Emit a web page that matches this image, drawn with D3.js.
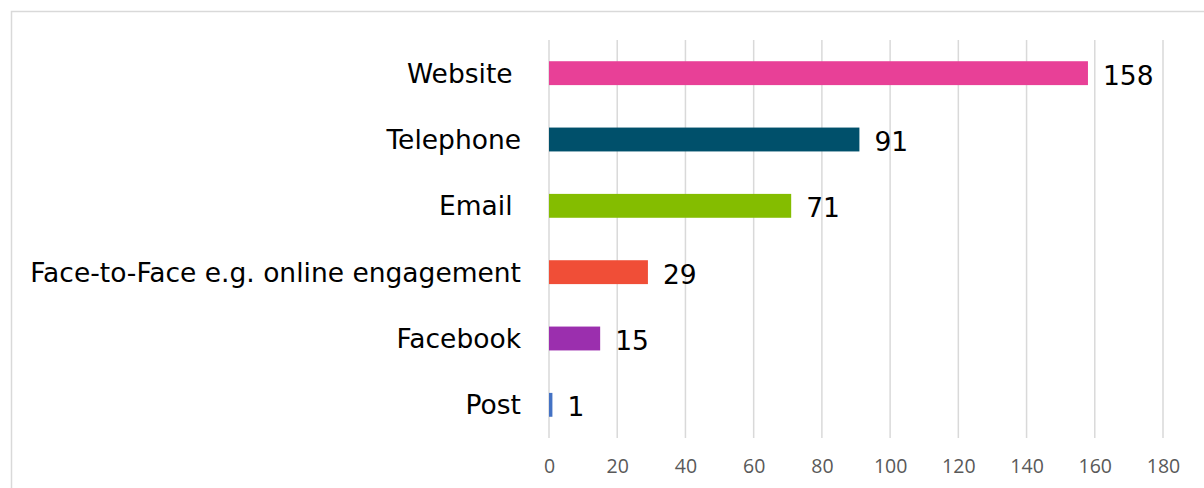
<!DOCTYPE html>
<html><head><meta charset="utf-8">
<script src="https://cdn.jsdelivr.net/npm/d3@7"></script>
<style>body{margin:0;background:#fff;} svg{display:block;}</style>
</head><body>
<svg id="c" width="1204" height="488"></svg>
<script>
const categories = ["Website ", "Telephone", "Email ", "Face-to-Face e.g. online engagement", "Facebook", "Post"];
const values = [158, 91, 71, 29, 15, 1];
const colors = ["#E84097", "#00506B", "#84BD00", "#F04E37", "#9B2FAE", "#4472C4"];
const ticks = [0, 20, 40, 60, 80, 100, 120, 140, 160, 180];

const svg = d3.select("#c");
svg.append("rect").attr("x", 11.5).attr("y", 11.5).attr("width", 1250).attr("height", 600)
  .attr("fill", "none").attr("stroke", "#d9d9d9").attr("stroke-width", 1.5);

const x = d3.scaleLinear().domain([0, 180]).range([549, 1163]);
const y = d3.scaleBand().domain(categories).range([40, 438]).paddingInner(0.64).paddingOuter(0.32);

// gridlines
svg.append("g").selectAll("line").data(ticks).join("line")
  .attr("x1", d => x(d)).attr("x2", d => x(d)).attr("y1", 40).attr("y2", 438)
  .attr("stroke", "#d9d9d9").attr("stroke-width", 1.5);

// axis tick labels
const ax = svg.append("g").attr("transform", "translate(0,438)")
  .call(d3.axisBottom(x).tickValues(ticks).tickSize(0).tickPadding(21));
ax.select(".domain").remove();
ax.selectAll("text").attr("font-family", "'Open Sans', sans-serif").attr("font-size", 19.5).attr("fill", "#595959");

// bars
svg.append("g").selectAll("rect").data(values).join("rect")
  .attr("x", x(0)).attr("y", (d, i) => y(categories[i]))
  .attr("width", d => x(d) - x(0)).attr("height", y.bandwidth())
  .attr("fill", (d, i) => colors[i]);

const font = "'DejaVu Sans', sans-serif";
// category labels
svg.append("g").selectAll("text").data(categories).join("text")
  .attr("x", 521).attr("y", d => y(d) + y.bandwidth() / 2).attr("dy", "0.36em")
  .attr("text-anchor", "end").style("white-space", "pre")
  .attr("font-family", font).attr("font-size", 26.5).attr("fill", "#000")
  .text(d => d);

// value labels
svg.append("g").selectAll("text").data(values).join("text")
  .attr("x", d => x(d) + 15).attr("y", (d, i) => y(categories[i]) + y.bandwidth() / 2 + 2).attr("dy", "0.36em")
  .attr("font-family", font).attr("font-size", 26.5).attr("fill", "#000")
  .text(d => d);
</script>
</body></html>
